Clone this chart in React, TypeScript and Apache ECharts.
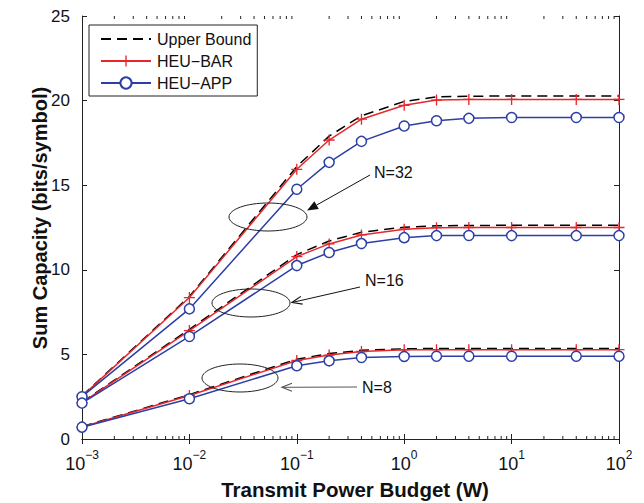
import React, { useEffect, useRef } from "react";
import * as echarts from "echarts";

// Transmit power budget (W) at which each curve is evaluated
const powerW = [0.001, 0.01, 0.1, 0.2, 0.4, 1, 2, 4, 10, 40, 100];

// N = 32
const upper32 = [2.55, 8.42, 16.1, 17.9, 19.1, 19.95, 20.22, 20.26, 20.27, 20.27, 20.27];
const bar32 = [2.52, 8.36, 15.94, 17.67, 18.9, 19.72, 20.03, 20.07, 20.07, 20.07, 20.07];
const app32 = [2.5, 7.69, 14.76, 16.35, 17.59, 18.5, 18.81, 18.95, 19.0, 19.0, 19.0];

// N = 16
const upper16 = [2.18, 6.48, 10.9, 11.7, 12.22, 12.52, 12.6, 12.62, 12.63, 12.63, 12.63];
const bar16 = [2.15, 6.41, 10.78, 11.53, 12.06, 12.4, 12.49, 12.5, 12.5, 12.5, 12.5];
const app16 = [2.12, 6.06, 10.25, 11.02, 11.55, 11.9, 12.02, 12.03, 12.02, 12.02, 12.02];

// N = 8
const upper8 = [0.73, 2.62, 4.72, 5.05, 5.24, 5.33, 5.35, 5.35, 5.35, 5.35, 5.35];
const bar8 = [0.71, 2.57, 4.64, 4.96, 5.17, 5.27, 5.28, 5.28, 5.28, 5.28, 5.28];
const app8 = [0.7, 2.38, 4.33, 4.62, 4.82, 4.88, 4.89, 4.89, 4.89, 4.89, 4.89];

const legendNames = ["Upper Bound", "HEU\u2212BAR", "HEU\u2212APP"];

// minor ticks of the log axis: 2..9 x 10^k
const minorTicks: number[] = [];
for (let k = -3; k < 2; k++) {
  for (let m = 2; m <= 9; m++) minorTicks.push(m * Math.pow(10, k));
}

const FONT = '"Liberation Sans", Arial, Helvetica, sans-serif';
const RED = "#e8262b";
const BLUE = "#2c3fa6";
const PLUS = "path://M4.4,0H5.6V10H4.4Z M0,4.4H10V5.6H0Z";

const pair = (ys: number[]) => powerW.map((x, i) => [x, ys[i]]);

function upperSeries(ys: number[]) {
  return {
    type: "line",
    name: legendNames[0],
    data: pair(ys),
    symbol: "none",
    lineStyle: { color: "#000", width: 1.5, type: [10, 6] },
    itemStyle: { color: "transparent", opacity: 0 },
    z: 2,
  };
}
function barSeries(ys: number[]) {
  return {
    type: "line",
    name: legendNames[1],
    data: pair(ys),
    symbol: PLUS,
    symbolSize: 11,
    showAllSymbol: true,
    lineStyle: { color: RED, width: 1.5 },
    itemStyle: { color: RED },
    z: 3,
  };
}
function appSeries(ys: number[]) {
  return {
    type: "line",
    name: legendNames[2],
    data: pair(ys),
    symbol: "circle",
    symbolSize: 10,
    showAllSymbol: true,
    lineStyle: { color: BLUE, width: 1.5 },
    itemStyle: { color: "#fff", borderColor: BLUE, borderWidth: 1.5 },
    z: 4,
  };
}

function arrow(x1: number, y1: number, x2: number, y2: number, color: string, filled: boolean) {
  const dx = x2 - x1;
  const dy = y2 - y1;
  const len = Math.hypot(dx, dy);
  const ux = dx / len;
  const uy = dy / len;
  const hl = filled ? 11 : 10;
  const hw = filled ? 4.5 : 4;
  const bx = x2 - ux * hl;
  const by = y2 - uy * hl;
  const p1 = [bx - uy * hw, by + ux * hw];
  const p2 = [bx + uy * hw, by - ux * hw];
  const els: any[] = [
    {
      type: "line",
      shape: { x1, y1, x2: filled ? bx : x2, y2: filled ? by : y2 },
      style: { stroke: color, lineWidth: 1 },
    },
  ];
  if (filled) {
    els.push({
      type: "polygon",
      shape: { points: [[x2, y2], p1, p2] },
      style: { fill: color },
    });
  } else {
    els.push({
      type: "polyline",
      shape: { points: [p1, [x2, y2], p2] },
      style: { stroke: color, lineWidth: 1.2, fill: "none" },
    });
  }
  return els;
}

function ellipse(cx: number, cy: number, rx: number, ry: number) {
  return {
    type: "ellipse",
    shape: { cx, cy, rx, ry },
    style: { stroke: "#222", lineWidth: 1, fill: "none" },
    z: 10,
  };
}

function label(text: string, x: number, y: number) {
  return {
    type: "text",
    x,
    y,
    style: { text, fill: "#111", font: `16px ${FONT}`, verticalAlign: "middle", align: "left" },
    z: 10,
  };
}

export default function App() {
  const ref = useRef<HTMLDivElement>(null);

  useEffect(() => {
    document.body.style.margin = "0";
    if (!ref.current) return;
    const chart = echarts.init(ref.current, undefined, { renderer: "svg" });

    const axisLine = { show: true, lineStyle: { color: "#222", width: 1 } };
    const grid = { left: 82, right: 25, top: 16, bottom: 64 };

    const option: any = {
      animation: false,
      backgroundColor: "#fff",
      textStyle: { fontFamily: FONT },
      grid,
      legend: {
        data: [
          { name: legendNames[0], itemStyle: { opacity: 0 } },
          { name: legendNames[1] },
          { name: legendNames[2] },
        ],
        orient: "vertical",
        left: 89,
        top: 25,
        padding: [6, 6, 5, 11],
        itemWidth: 50,
        itemHeight: 14,
        itemGap: 6,
        backgroundColor: "#fff",
        borderColor: "#222",
        borderWidth: 1,
        textStyle: { fontSize: 16, color: "#111", fontFamily: FONT, padding: [0, 0, 0, 1] },
        z: 20,
      },
      xAxis: [
        {
          type: "log",
          logBase: 10,
          min: 0.001,
          max: 100,
          splitNumber: 5,
          axisLine,
          axisTick: { show: true, inside: true, length: 5, lineStyle: { color: "#222" } },
          splitLine: { show: false },
          axisLabel: {
            margin: 10,
            color: "#111",
            formatter: (v: number) => {
              const e = Math.round(Math.log10(v));
              const s = e < 0 ? "\u2212" + Math.abs(e) : String(e);
              return `{b|10}{s|${s}}`;
            },
            rich: {
              b: { fontSize: 18, fontFamily: FONT, color: "#111", lineHeight: 24, verticalAlign: "bottom" },
              s: { fontSize: 12, fontFamily: FONT, color: "#111", lineHeight: 8, verticalAlign: "top" },
            },
          },
        },
        {
          type: "log",
          logBase: 10,
          min: 0.001,
          max: 100,
          splitNumber: 5,
          position: "top",
          axisLine,
          axisTick: { show: true, inside: true, length: 5, lineStyle: { color: "#222" } },
          axisLabel: { show: false },
          splitLine: { show: false },
        },
      ],
      yAxis: [
        {
          type: "value",
          min: 0,
          max: 25,
          interval: 5,
          axisLine,
          axisTick: { show: true, inside: true, length: 5, lineStyle: { color: "#222" } },
          splitLine: { show: false },
          axisLabel: { margin: 12, fontSize: 17, color: "#111", fontFamily: FONT },
        },
        {
          type: "value",
          min: 0,
          max: 25,
          interval: 5,
          position: "right",
          axisLine,
          axisTick: { show: true, inside: true, length: 5, lineStyle: { color: "#222" } },
          axisLabel: { show: false },
          splitLine: { show: false },
        },
      ],
      series: [
        upperSeries(upper32),
        barSeries(bar32),
        appSeries(app32),
        upperSeries(upper16),
        barSeries(bar16),
        appSeries(app16),
        upperSeries(upper8),
        barSeries(bar8),
        appSeries(app8),
        {
          type: "custom",
          name: "minor",
          silent: true,
          clip: false,
          data: minorTicks.map((v) => [v, 0]),
          renderItem: (_p: any, api: any) => {
            const x = api.value(0);
            const b = api.coord([x, 0]);
            const t = api.coord([x, 25]);
            const st = { stroke: "#222", lineWidth: 1 };
            return {
              type: "group",
              children: [
                { type: "line", shape: { x1: b[0], y1: b[1], x2: b[0], y2: b[1] - 3 }, style: st },
                { type: "line", shape: { x1: t[0], y1: t[1], x2: t[0], y2: t[1] + 3 }, style: st },
              ],
            };
          },
          z: 1,
        },
      ],
      graphic: [
        ellipse(268, 217, 39, 14),
        ellipse(251, 303, 39, 14),
        ellipse(240, 378, 38, 14),
        ...arrow(370, 175, 307, 210.5, "#111", true),
        ...arrow(360, 287, 292, 302.5, "#111", false),
        ...arrow(357, 387, 282, 387.3, "#555", false),
        label("N=32", 374, 172),
        label("N=16", 365, 280),
        label("N=8", 362, 387),
        {
          type: "text",
          x: 40,
          y: 218,
          rotation: Math.PI / 2,
          style: {
            text: "Sum Capacity (bits/symbol)",
            font: `bold 20px ${FONT}`,
            fill: "#111",
            align: "center",
            verticalAlign: "middle",
          },
        },
        {
          type: "text",
          x: 355,
          y: 489,
          style: {
            text: "Transmit Power Budget (W)",
            font: `bold 20.5px ${FONT}`,
            fill: "#111",
            align: "center",
            verticalAlign: "middle",
          },
        },
      ],
    };

    chart.setOption(option);
    return () => chart.dispose();
  }, []);

  return <div ref={ref} style={{ width: 644, height: 503 }} />;
}
